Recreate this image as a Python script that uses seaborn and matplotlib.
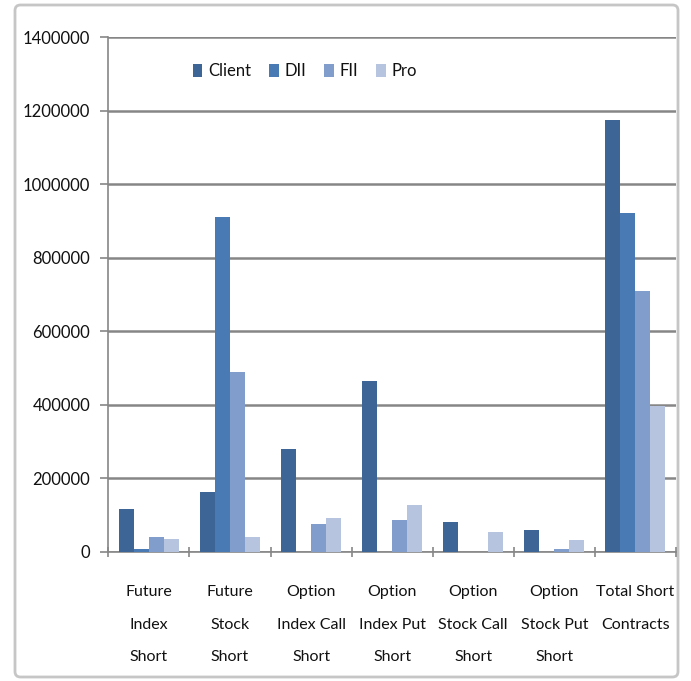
import matplotlib
matplotlib.use("Agg")
import matplotlib.pyplot as plt
from matplotlib.patches import FancyBboxPatch
from matplotlib.ticker import FixedLocator
import seaborn as sns
import pandas as pd

# Short positions (contracts) by participant type
categories = [
    "Future\nIndex\nShort",
    "Future\nStock\nShort",
    "Option\nIndex Call\nShort",
    "Option\nIndex Put\nShort",
    "Option\nStock Call\nShort",
    "Option\nStock Put\nShort",
    "Total Short\nContracts",
]
participants = ["Client", "DII", "FII", "Pro"]
client = [115000, 162000, 280000, 464000, 82000, 59000, 1173000]
dii = [7000, 910000, 0, 0, 0, 0, 921000]
fii = [41000, 488000, 75000, 86000, 0, 7000, 709000]
pro = [35000, 41000, 93000, 126000, 53000, 31000, 396000]
yticks = [0, 200000, 400000, 600000, 800000, 1000000, 1200000, 1400000]

colors = ["#3d6596", "#4a7ab4", "#809dcb", "#b6c4e0"]

rows = []
for name, vals in zip(participants, [client, dii, fii, pro]):
    for cat, v in zip(categories, vals):
        rows.append({"category": cat, "participant": name, "contracts": v})
df = pd.DataFrame(rows)

sns.set_theme(style="white")
plt.rcParams["font.family"] = ["Lato", "DejaVu Sans"]

W, H = 691, 681
fig = plt.figure(figsize=(W / 100, H / 100), dpi=100)
fig.patch.set_facecolor("white")

# chart-area frame
frame = FancyBboxPatch((15 / W, 1 - 677 / H), (678 - 15) / W, (677 - 5) / H,
                       boxstyle="round,pad=0,rounding_size=0.008",
                       transform=fig.transFigure, facecolor="none",
                       edgecolor="#c6c6c6", linewidth=2, zorder=-5)
fig.patches.append(frame)

ax = fig.add_axes([108.3 / W, 1 - 551.7 / H, (676 - 108.3) / W, (551.7 - 37) / H])
ax.set_facecolor("none")

sns.barplot(data=df, x="category", y="contracts", hue="participant",
            hue_order=participants, palette=colors, width=0.74,
            saturation=1, ax=ax, edgecolor="none", linewidth=0, zorder=3)

ax.set_ylim(0, 1400000)
ax.set_xlim(-0.5, len(categories) - 0.5)
ax.set_yticks(yticks)
ax.set_yticklabels([str(t) for t in yticks])
ax.yaxis.grid(True, color="#868686", linewidth=1.8, zorder=0)
ax.set_axisbelow(True)
ax.set_xlabel("")
ax.set_ylabel("")

for side in ["top", "right"]:
    ax.spines[side].set_visible(False)
for side in ["left", "bottom"]:
    ax.spines[side].set_color("#868686")
    ax.spines[side].set_linewidth(1.2)

ax.tick_params(axis="y", which="major", length=6, width=1.2, color="#868686",
               labelsize=12, pad=7, left=True, labelcolor="#111111")
ax.set_xticks(range(len(categories)))
ax.set_xticklabels(categories, linespacing=2.7)
ax.tick_params(axis="x", which="major", length=0, labelsize=11.5, pad=24,
               labelcolor="#111111")
ax.xaxis.set_minor_locator(FixedLocator([i - 0.5 for i in range(len(categories) + 1)]))
ax.tick_params(axis="x", which="minor", length=7, width=1.2, color="#868686",
               bottom=True, direction="inout")

leg = ax.legend(loc="center left", bbox_to_anchor=(193 / W, 1 - 71 / H),
                bbox_transform=fig.transFigure, ncol=4, frameon=False,
                fontsize=12, handlelength=0.55, handleheight=0.85,
                handletextpad=0.35, columnspacing=1.1, borderaxespad=0,
                borderpad=0)
for t in leg.get_texts():
    t.set_color("#111111")

fig.savefig("out.png", dpi=100, facecolor="white")
